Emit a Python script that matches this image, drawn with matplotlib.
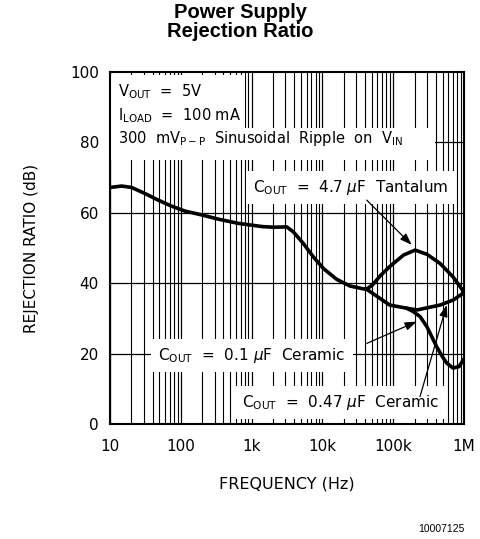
import matplotlib
matplotlib.use("Agg")
import matplotlib.pyplot as plt
from matplotlib.patches import Rectangle
from matplotlib.ticker import FixedLocator, NullFormatter

# --- DATA ---
freq_main = [10, 14.6, 20.2, 31, 48, 74, 114, 197, 338, 649, 1385, 2030, 3130, 3880,
             5370, 7430, 10300, 15900, 24500, 37800, 42000]
psrr_main = [67.2, 67.6, 67.2, 65.5, 63.6, 61.9, 60.5, 59.4, 58.2, 57.0, 56.1, 55.9, 56.0, 54.6,
             51.3, 47.5, 44.2, 41.1, 39.2, 38.4, 38.3]

freq_tant = [42000, 51000, 65000, 89000, 140000, 204000, 300000, 460000, 700000, 1000000]
psrr_tant = [38.3, 39.5, 42.0, 44.7, 48.0, 49.4, 48.2, 45.6, 41.8, 37.5]

freq_c01 = [42000, 65000, 89000, 155000, 217000, 300000, 460000, 700000, 1000000]
psrr_c01 = [38.3, 35.7, 33.8, 32.9, 32.4, 33.0, 33.8, 35.2, 37.3]

freq_c047 = [155000, 190000, 240000, 300000, 410000, 500000, 570000, 700000, 850000, 1000000]
psrr_c047 = [32.9, 32.0, 30.5, 27.6, 22.0, 19.0, 17.3, 15.9, 16.3, 18.5]

x_ticks = [10, 100, 1e3, 1e4, 1e5, 1e6]
x_labels = ["10", "100", "1k", "10k", "100k", "1M"]
y_ticks = [0, 20, 40, 60, 80, 100]

# --- FIGURE ---
fig = plt.figure(figsize=(4.81, 5.39), dpi=100)
ax = fig.add_axes([110 / 481, 115 / 539, 354 / 481, 352 / 539])
ax.set_xscale("log")
ax.set_xlim(10, 1e6)
ax.set_ylim(0, 100)

# grid: every decade subdivision, plus 20 dB steps
minors = [m * 10 ** d for d in range(1, 6) for m in range(2, 10)]
for f in minors:
    ax.axvline(f, color="black", lw=0.8, zorder=1)
for f in x_ticks:
    ax.axvline(f, color="black", lw=0.9, zorder=1)
for v in [20, 40, 60, 80]:
    ax.axhline(v, color="black", lw=0.9, zorder=1)

ax.xaxis.set_major_locator(FixedLocator(x_ticks))
ax.xaxis.set_minor_formatter(NullFormatter())
ax.set_xticks(x_ticks)
ax.set_xticklabels(x_labels)
ax.set_yticks(y_ticks)
ax.tick_params(which="both", length=0, labelsize=11)
ax.tick_params(axis="x", pad=11)
ax.tick_params(axis="y", pad=8)
for s in ax.spines.values():
    s.set_linewidth(1.5)

# white masks behind the condition text
ax.add_patch(Rectangle((0, 0.841), 0.381, 0.15, transform=ax.transAxes,
                       fc="white", ec="none", zorder=2))
ax.add_patch(Rectangle((0, 0.75), 0.918, 0.091, transform=ax.transAxes,
                       fc="white", ec="none", zorder=2))

# curves
lw = 2.6
for fx, py in [(freq_main, psrr_main), (freq_tant, psrr_tant),
               (freq_c01, psrr_c01), (freq_c047, psrr_c047)]:
    ax.plot(fx, py, color="black", lw=lw, zorder=4,
            solid_capstyle="round", solid_joinstyle="round")

fs = 10.5
ax.text(0.023, 0.932, r"V$_{\rm OUT}$  =  5V", transform=ax.transAxes, fontsize=fs, zorder=5)
ax.text(0.023, 0.864, r"I$_{\rm LOAD}$  =  100 mA", transform=ax.transAxes, fontsize=fs, zorder=5)
ax.text(0.023, 0.797, r"300  mV$_{\rm P-P}$  Sinusoidal  Ripple  on  V$_{\rm IN}$",
        transform=ax.transAxes, fontsize=fs, zorder=5)

box = dict(fc="white", ec="none", pad=5)
ax.text(0.404, 0.659, r"C$_{\rm OUT}$  =  4.7 $\mu$F  Tantalum", transform=ax.transAxes,
        fontsize=11, zorder=5, bbox=box)
ax.text(0.136, 0.182, r"C$_{\rm OUT}$  =  0.1 $\mu$F  Ceramic", transform=ax.transAxes,
        fontsize=11, zorder=5, bbox=box)
ax.text(0.372, 0.048, r"C$_{\rm OUT}$  =  0.47 $\mu$F  Ceramic", transform=ax.transAxes,
        fontsize=11, zorder=5, bbox=box)

arrow = dict(arrowstyle="-|>,head_length=0.7,head_width=0.25", color="black", lw=0.9,
             shrinkA=0, shrinkB=0)
ax.annotate("", xy=(182000, 50.9), xytext=(42300, 63.6), arrowprops=arrow, zorder=6)
ax.annotate("", xy=(215000, 29.1), xytext=(42300, 22.9), arrowprops=arrow, zorder=6)
ax.annotate("", xy=(570000, 33.8), xytext=(239000, 7.8), arrowprops=arrow, zorder=6)

ax.set_ylabel("REJECTION RATIO (dB)", fontsize=11, labelpad=22)
ax.set_xlabel("FREQUENCY (Hz)", fontsize=11.5, labelpad=16)

fig.text(0.5, 1 - 22 / 539, "Power Supply\nRejection Ratio", ha="center", va="center",
         fontsize=14.5, fontweight="bold", family="Liberation Sans", linespacing=1.0)
fig.text(465 / 481, 1 - 532 / 539, "10007125", ha="right", va="baseline",
         fontsize=7.5, family="Liberation Sans")

fig.savefig("out.png", dpi=100)
